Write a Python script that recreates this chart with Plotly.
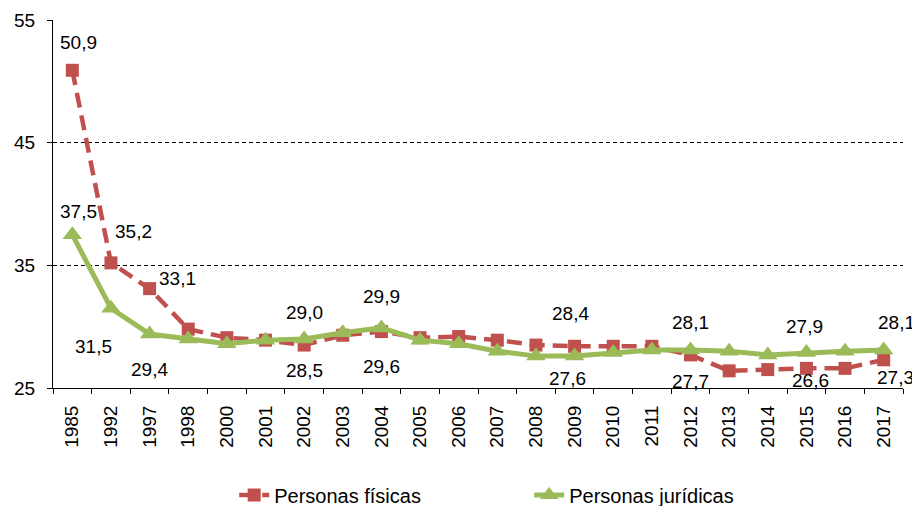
import plotly.graph_objects as go

years = ["1985", "1992", "1997", "1998", "2000", "2001", "2002", "2003", "2004", "2005", "2006",
         "2007", "2008", "2009", "2010", "2011", "2012", "2013", "2014", "2015", "2016", "2017"]
fisicas = [50.9, 35.2, 33.1, 29.8, 29.1, 28.9, 28.5, 29.3, 29.6, 29.1, 29.2,
           28.9, 28.5, 28.4, 28.4, 28.4, 27.7, 26.4, 26.5, 26.6, 26.6, 27.3]
juridicas = [37.5, 31.5, 29.4, 29.0, 28.6, 28.9, 29.0, 29.5, 29.9, 28.9, 28.6,
             28.0, 27.6, 27.6, 27.9, 28.1, 28.1, 28.0, 27.7, 27.9, 28.0, 28.1]
y_ticks = [25, 35, 45, 55]

# labelled points: index -> (xshift, yshift) in px
fis_labels = {0: (6, 28), 1: (23, 31), 2: (28, 10), 6: (0, -25), 8: (0, -35),
              13: (-4, 33), 16: (0, -27), 19: (4, -12), 21: (12, -18)}
jur_labels = {0: (6, 23), 1: (-17, -38), 2: (0, -35), 6: (0, 26), 8: (0, 31),
              13: (-7, -22), 16: (0, 27), 19: (-2, 26), 21: (13, 27)}

RED = "#C0504D"
GREEN = "#9BBB59"
FONT = "Liberation Sans"

fig = go.Figure()
fig.add_trace(go.Scatter(
    x=years, y=fisicas, name="Personas físicas", mode="lines+markers",
    line=dict(color=RED, width=4.5, dash="15px,8px"),
    marker=dict(symbol="square", size=13, color=RED),
))
fig.add_trace(go.Scatter(
    x=years, y=juridicas, name="Personas jurídicas", mode="lines+markers",
    line=dict(color=GREEN, width=5),
    marker=dict(symbol="triangle-up", size=17, color=GREEN),
))

def fmt(v):
    return f"{v:.1f}".replace(".", ",")

for series, labels in ((fisicas, fis_labels), (juridicas, jur_labels)):
    for i, (dx, dy) in labels.items():
        fig.add_annotation(
            x=i, y=series[i], xref="x", yref="y", text=fmt(series[i]), showarrow=False,
            xanchor="center", yanchor="middle",
            xshift=dx, yshift=dy, font=dict(family=FONT, size=19, color="black"),
        )

# the page body has an 8px default margin; compensate so the plot lands where the reference has it
fig.update_layout(
    width=912, height=498,
    margin=dict(l=45, r=17, t=12, b=118, autoexpand=False),
    paper_bgcolor="white", plot_bgcolor="white",
    font=dict(family=FONT, size=19, color="black"),
    showlegend=True,
    legend=dict(orientation="h", xref="container", yref="container",
                x=0.248, y=0.022, xanchor="left", yanchor="middle",
                font=dict(family=FONT, size=20, color="black"),
                entrywidth=250, bgcolor="rgba(0,0,0,0)"),
)
fig.update_xaxes(
    type="category", categoryorder="array", categoryarray=years,
    range=[-0.5, len(years) - 0.5],
    showline=True, linecolor="black", linewidth=1,
    ticks="outside", ticklen=5, tickcolor="black", tickson="boundaries",
    tickangle=-90, showgrid=False, zeroline=False, ticklabelstandoff=9,
    tickfont=dict(family=FONT, size=19, color="black"),
)
fig.update_yaxes(
    range=[25, 55], tickvals=y_ticks, ticktext=[str(t) for t in y_ticks],
    showline=True, linecolor="black", linewidth=1,
    ticks="outside", ticklen=5, tickcolor="black",
    showgrid=True, gridcolor="black", gridwidth=1, griddash="4px,3px",
    zeroline=False, ticklabelstandoff=8,
    tickfont=dict(family=FONT, size=19, color="black"),
)

fig.write_html("out.html")
